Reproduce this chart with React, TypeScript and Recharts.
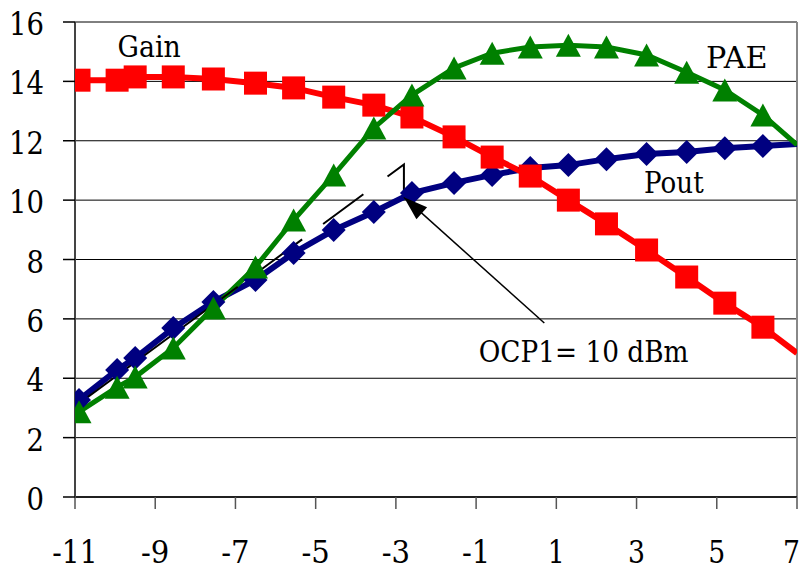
import { LineChart, Line, XAxis, YAxis, CartesianGrid, ReferenceDot, ReferenceLine } from 'recharts';

// input power (dBm); first and last points carry no marker
const pin = [-11, -10.9, -9.95, -9.5, -8.55, -7.55, -6.5, -5.55, -4.55, -3.55, -2.6, -1.55, -0.6, 0.35, 1.3, 2.25, 3.25, 4.25, 5.2, 6.15, 7];
const gain = [14.0, 14.04, 14.04, 14.15, 14.15, 14.08, 13.94, 13.78, 13.47, 13.2, 12.8, 12.13, 11.45, 10.81, 10.0, 9.2, 8.32, 7.41, 6.53, 5.72, 4.85];
const pae = [2.75, 2.87, 3.7, 4.04, 5.02, 6.37, 7.75, 9.33, 10.85, 12.43, 13.54, 14.45, 14.95, 15.16, 15.22, 15.16, 14.89, 14.31, 13.71, 12.87, 11.86];
const pout = [2.95, 3.27, 4.28, 4.68, 5.69, 6.57, 7.31, 8.22, 8.99, 9.6, 10.24, 10.58, 10.85, 11.08, 11.18, 11.38, 11.55, 11.62, 11.75, 11.82, 11.89];

// linear extrapolation of Pout and the 1 dB drop
const extX = [-11, -2.8, -2.8];
const extY = [3.05, 11.2, 10.2];

// annotation arrow: tail -> tip
const arrowX = [0.7, -2.8];
const arrowY = [5.86, 10.1];

const xTicks = [-11, -9, -7, -5, -3, -1, 1, 3, 5, 7];
const yTicks = [0, 2, 4, 6, 8, 10, 12, 14, 16];

const labels = [
  { text: 'Gain', x: -9.15, y: 14.82 },
  { text: 'PAE', x: 5.5, y: 14.45 },
  { text: 'Pout', x: 3.93, y: 10.24 },
  { text: 'OCP1= 10 dBm', x: 1.68, y: 4.55 },
];

const toRows = (xs: number[], ys: number[]) => xs.map((x, i) => ({ x, y: ys[i] }));

// only DejaVu Serif renders as a serif face here; squeeze it to Times-like widths
const FONT = 'DejaVu Serif';
const TIMES_W: Record<string, number> = {
  '0': 0.5, '1': 0.5, '2': 0.5, '3': 0.5, '4': 0.5, '5': 0.5, '6': 0.5, '7': 0.5, '8': 0.5, '9': 0.5,
  '-': 0.333, ' ': 0.25, '=': 0.564, G: 0.722, a: 0.444, i: 0.278, n: 0.5, P: 0.556, A: 0.722,
  E: 0.611, o: 0.5, u: 0.5, t: 0.278, O: 0.722, C: 0.667, d: 0.5, B: 0.667, m: 0.778,
};
const timesWidth = (s: string, size: number) =>
  s.split('').reduce((acc, c) => acc + (TIMES_W[c] ?? 0.5), 0) * size;

const SerifText = ({ x, y, text, size, em, anchor }: any) => (
  <text
    x={x}
    y={y}
    textAnchor={anchor}
    fontSize={size}
    fill="#000"
    style={{ fontFamily: FONT }}
    textLength={timesWidth(text, em)}
    lengthAdjust="spacingAndGlyphs"
  >
    {text}
  </text>
);

const XTick = (p: any) => {
  const text = String(p.payload.value);
  // keep the last label inside the 805px frame
  const x = Math.min(p.x, 800 - timesWidth(text, 34) / 2);
  return <SerifText x={x} y={p.y + 54} text={text} size={31} em={34} anchor="middle" />;
};

const YTick = (p: any) => (
  <SerifText x={p.x - 19} y={p.y + 13} text={String(p.payload.value)} size={32} em={35} anchor="end" />
);

const hidden = (i: number, n: number) => i === 0 || i === n - 1;

const squareDot = (p: any) => {
  const { cx, cy, index, key } = p;
  if (hidden(index, pin.length)) return <g key={key} />;
  const s = 23;
  return <rect key={key} x={cx - s / 2} y={cy - s / 2} width={s} height={s} fill="#ff0000" />;
};

const triangleDot = (p: any) => {
  const { cx, cy, index, key } = p;
  if (hidden(index, pin.length)) return <g key={key} />;
  const w = 12.5, h = 11.5;
  return (
    <polygon key={key} points={`${cx},${cy - h} ${cx - w},${cy + h} ${cx + w},${cy + h}`} fill="#008000" />
  );
};

const diamondDot = (p: any) => {
  const { cx, cy, index, key } = p;
  if (hidden(index, pin.length)) return <g key={key} />;
  const r = 12;
  return (
    <polygon key={key} points={`${cx},${cy - r} ${cx + r},${cy} ${cx},${cy + r} ${cx - r},${cy}`} fill="#000080" />
  );
};

const arrowHead = (p: any) => {
  const { cx, cy, index, key, points } = p;
  if (index !== 1) return <g key={key} />;
  let ang = Math.atan2(-1.2, -1);
  if (points && points.length > 1) {
    ang = Math.atan2(points[1].y - points[0].y, points[1].x - points[0].x);
  }
  const len = 24, half = 8;
  const bx = cx - len * Math.cos(ang), by = cy - len * Math.sin(ang);
  const px = -Math.sin(ang) * half, py = Math.cos(ang) * half;
  return (
    <polygon key={key} points={`${cx},${cy} ${bx + px},${by + py} ${bx - px},${by - py}`} fill="#000" />
  );
};

export default function App() {
  return (
    <div style={{ position: 'absolute', left: 0, top: 0, width: 805, height: 570, background: '#fff' }}>
      <LineChart width={805} height={570} margin={{ top: 22, right: 8, bottom: 0, left: 0 }}>
        <CartesianGrid vertical={false} stroke="#000" strokeWidth={1} />
        <XAxis
          type="number"
          dataKey="x"
          domain={[-11, 7]}
          ticks={xTicks}
          interval={0}
          allowDataOverflow
          height={73}
          tickSize={12}
          tickMargin={0}
          axisLine={{ stroke: '#000', strokeWidth: 1.5 }}
          tickLine={{ stroke: '#555', strokeWidth: 1.5 }}
          tick={XTick}
        />
        <YAxis
          type="number"
          domain={[0, 16]}
          ticks={yTicks}
          interval={0}
          allowDataOverflow
          width={75}
          tickSize={12}
          tickMargin={0}
          axisLine={{ stroke: '#444', strokeWidth: 2 }}
          tickLine={{ stroke: '#000', strokeWidth: 1.5 }}
          tick={YTick}
        />
        <ReferenceLine x={7} stroke="#888" strokeWidth={2} />
        <Line
          data={toRows(pin, pout)}
          dataKey="y"
          stroke="#000080"
          strokeWidth={6}
          dot={diamondDot}
          activeDot={false}
          isAnimationActive={false}
        />
        <Line
          data={toRows(pin, gain)}
          dataKey="y"
          stroke="#ff0000"
          strokeWidth={6}
          dot={squareDot}
          activeDot={false}
          isAnimationActive={false}
        />
        <Line
          data={toRows(pin, pae)}
          dataKey="y"
          stroke="#008000"
          strokeWidth={5}
          dot={triangleDot}
          activeDot={false}
          isAnimationActive={false}
        />
        <Line
          data={toRows(extX, extY)}
          dataKey="y"
          stroke="#000"
          strokeWidth={2}
          strokeDasharray="202 30 50 26 50 30 60"
          dot={false}
          activeDot={false}
          isAnimationActive={false}
        />
        <Line
          data={toRows(arrowX, arrowY)}
          dataKey="y"
          stroke="#000"
          strokeWidth={1.5}
          dot={arrowHead}
          activeDot={false}
          isAnimationActive={false}
        />
        {labels.map((l) => (
          <ReferenceDot
            key={l.text}
            x={l.x}
            y={l.y}
            ifOverflow="visible"
            shape={(p: any) => <SerifText x={p.cx} y={p.cy} text={l.text} size={30} em={32.5} anchor="middle" />}
          />
        ))}
      </LineChart>
    </div>
  );
}
